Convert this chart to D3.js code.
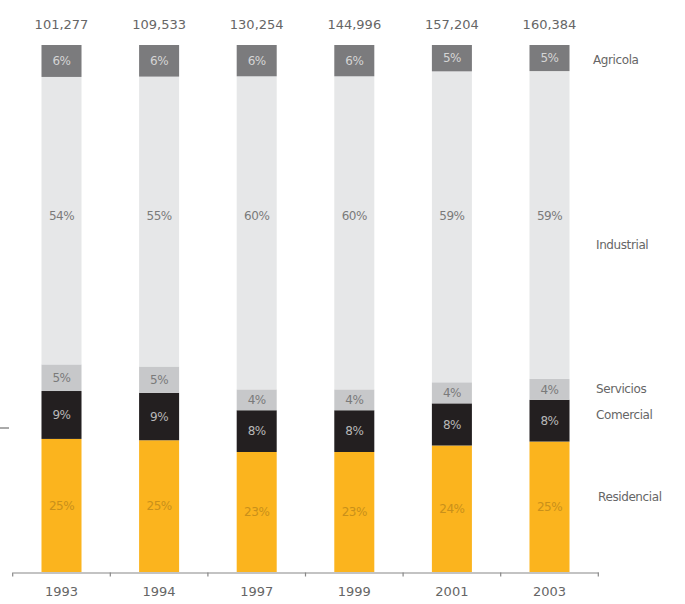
<!DOCTYPE html>
<html><head><meta charset="utf-8">
<script src="https://cdn.jsdelivr.net/npm/d3@7"></script>
<style>body{margin:0;background:#fff;} svg{display:block;font-family:"DejaVu Sans",sans-serif;}</style>
</head><body>
<svg id="c" width="685" height="604"></svg>
<script>
const years = ["1993","1994","1997","1999","2001","2003"];
const totals = ["101,277","109,533","130,254","144,996","157,204","160,384"];
const sectors = ["Residencial","Comercial","Servicios","Industrial","Agricola"];
const residencial = [25,25,23,23,24,25];
const comercial   = [9,9,8,8,8,8];
const servicios   = [5,5,4,4,4,4];
const industrial  = [54,55,60,60,59,59];
const agricola    = [6,6,6,6,5,5];
const colors = {Residencial:"#fbb41e",Comercial:"#231f20",Servicios:"#c7c8ca",Industrial:"#e6e7e8",Agricola:"#7b7b7d"};
const labelColors = {Residencial:"#c9901a",Comercial:"#b8b8b8",Servicios:"#7a7a7a",Industrial:"#7a7a7a",Agricola:"#d5d5d5"};
const legendY = {Agricola:60,Industrial:245,Servicios:389,Comercial:415,Residencial:497};

const series = {Residencial:residencial,Comercial:comercial,Servicios:servicios,Industrial:industrial,Agricola:agricola};
const rows = years.map((y,i)=>{const r={year:y}; sectors.forEach(s=>r[s]=series[s][i]); return r;});

const svg = d3.select("#c");
const x = d3.scaleBand().domain(years).range([12.7,598.3]).paddingInner(0.59).paddingOuter(0.295);
const y = d3.scaleLinear().domain([0,1]).range([572,45]);

const stack = d3.stack().keys(sectors).offset(d3.stackOffsetExpand)(rows);

const g = svg.append("g");
stack.forEach(layer=>{
  const key = layer.key;
  const lg = g.append("g");
  lg.selectAll("rect").data(layer).join("rect")
    .attr("x",d=>x(d.data.year)).attr("width",x.bandwidth())
    .attr("y",d=>y(d[1])).attr("height",d=>y(d[0])-y(d[1]))
    .attr("fill",colors[key]);
  lg.selectAll("text").data(layer).join("text")
    .attr("x",d=>x(d.data.year)+x.bandwidth()/2)
    .attr("y",d=>key==="Industrial" ? y(0.675) : (y(d[0])+y(d[1]))/2)
    .attr("dy","0.35em").attr("text-anchor","middle")
    .attr("font-size",12).attr("letter-spacing","-0.5")
    .attr("fill",labelColors[key])
    .text(d=>d.data[key]+"%");
});

// totals
svg.append("g").selectAll("text").data(years).join("text")
  .attr("x",d=>x(d)+x.bandwidth()/2).attr("y",29)
  .attr("text-anchor","middle").attr("font-size",13).attr("fill","#666")
  .text((d,i)=>totals[i]);

// axis
const axis = d3.axisBottom(x).tickSize(0).tickPadding(14);
const ax = svg.append("g").attr("transform","translate(0,572.5)").call(axis);
ax.select(".domain").attr("stroke","#888").attr("stroke-width",1.2);
ax.selectAll(".tick text").attr("font-size",13).attr("fill","#666").attr("font-family","DejaVu Sans");
const bounds = x.domain().map(d=>x(d)-x.step()*x.paddingInner()/2).concat([598.3]);
bounds[0]=12.7;
ax.append("g").selectAll("line").data(bounds).join("line")
  .attr("x1",d=>d).attr("x2",d=>d).attr("y1",0).attr("y2",4)
  .attr("stroke","#888").attr("stroke-width",1.2);

// legend labels
svg.append("g").selectAll("text").data(sectors).join("text")
  .attr("x",d=>d==="Agricola"?593:(d==="Residencial"?598:596))
  .attr("y",d=>legendY[d]).attr("dy","0.35em")
  .attr("font-size",12).attr("letter-spacing","-0.4").attr("fill","#666")
  .text(d=>d);

// stray short line at left
svg.append("line").attr("x1",0).attr("x2",9).attr("y1",428).attr("y2",428).attr("stroke","#555").attr("stroke-width",1);
</script>
</body></html>
